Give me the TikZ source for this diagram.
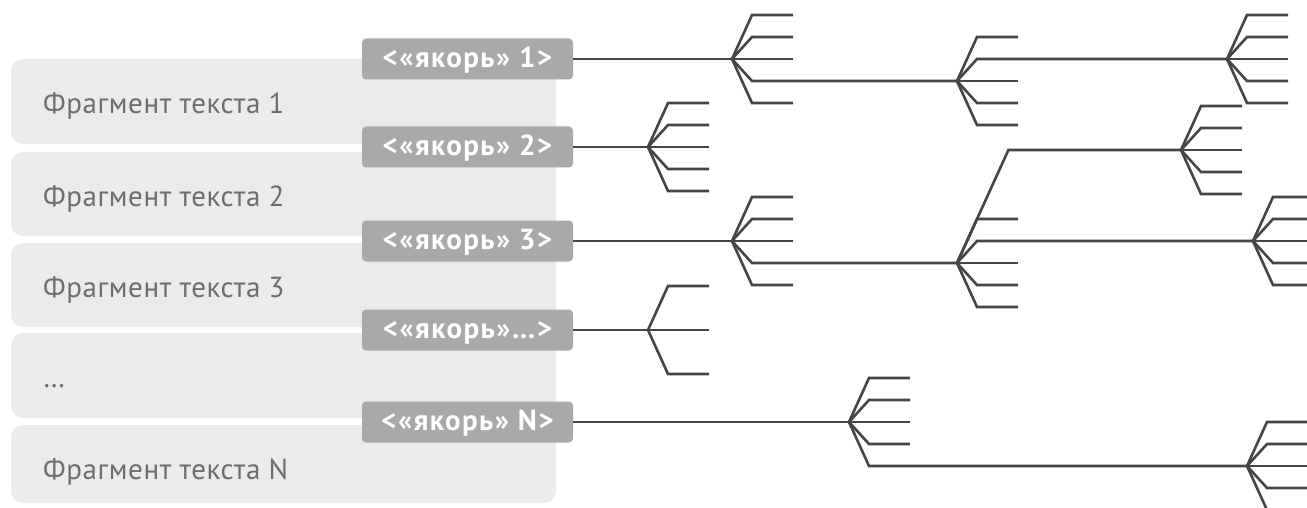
\documentclass[tikz,border=0pt]{standalone}
\usepackage{fontspec}
\setmainfont{PT Sans}
\newfontfamily\fragfont{PT Sans}[LetterSpace=2]
\newfontfamily\ancfont{PT Sans}[LetterSpace=5]
\definecolor{fragfill}{HTML}{EBEBEB}
\definecolor{fragtext}{HTML}{6E6E6E}
\definecolor{ancfill}{HTML}{A9A9A9}
\definecolor{treeline}{HTML}{454545}
\tikzset{
  fragbox/.style={fill=fragfill, rounded corners=12pt, minimum width=545pt, inner sep=0pt},
  fragtext/.style={text=fragtext, font=\fragfont\fontsize{29}{33}\selectfont, inner sep=0pt, anchor=base west},
  ancbox/.style={fill=ancfill, rounded corners=4pt, minimum width=211pt, minimum height=41pt, inner sep=0pt,
    text height=17pt, text depth=0pt,
    text=white, font=\ancfont\bfseries\fontsize{29}{33}\selectfont},
  tree/.style={draw=treeline, line width=2.6pt, line join=miter},
}
\newcommand\forkbranches[2]{%
  \foreach \k in {#2}{\draw[tree] (#1) -- ++(20,22*\k) -- ++(41,0);}}
\begin{document}
\begin{tikzpicture}[x=1pt,y=-1pt]
\useasboundingbox (0,0) rectangle (1307,508);
\clip (0,0) rectangle (1307,508);
% fragment boxes
\node[fragbox, minimum height=85pt] (f1) at (283.5,101.5) {};
\node[fragbox, minimum height=84pt] (f2) at (283.5,194) {};
\node[fragbox, minimum height=84pt] (f3) at (283.5,285) {};
\node[fragbox, minimum height=85pt] (f4) at (283.5,375.5) {};
\node[fragbox, minimum height=78pt] (f5) at (283.5,464) {};
\node[fragtext] (t1) at (43,114) {Фрагмент текста 1};
\node[fragtext] (t2) at (43,206) {Фрагмент текста 2};
\node[fragtext] (t3) at (43,297) {Фрагмент текста 3};
\node[fragtext] (t4) at (43,387) {…};
\node[fragtext] (t5) at (43,479) {Фрагмент текста N};
% anchors
\node[ancbox] (a1) at (467.5,59) {<«якорь» 1>};
\node[ancbox] (a2) at (467.5,147) {<«якорь» 2>};
\node[ancbox] (a3) at (467.5,241) {<«якорь» 3>};
\node[ancbox] (a4) at (467.5,330) {<«якорь»…>};
\node[ancbox] (a5) at (467.5,422) {<«якорь» N>};
% fork points
\coordinate (F1) at (732,59);
\coordinate (F1b) at (957,81);
\coordinate (F1c) at (1227,59);
\coordinate (F2) at (648,147);
\coordinate (F2b) at (1181,150);
\coordinate (F3) at (732,241);
\coordinate (F3b) at (957,263);
\coordinate (F3c) at (1253,241);
\coordinate (F4) at (648,330);
\coordinate (FN) at (849,422);
\coordinate (FNb) at (1247,466);
% stems
\draw[tree] (a1.east) -- (F1);
\draw[tree] (a2.east) -- (F2);
\draw[tree] (a3.east) -- (F3);
\draw[tree] (a4.east) -- (F4);
\draw[tree] (a5.east) -- (FN);
% links between forks
\draw[tree] (F1) -- ++(20,22) -- (F1b);
\draw[tree] (F1b) -- ++(20,-22) -- (F1c);
\draw[tree] (F3) -- ++(20,22) -- (F3b);
\draw[tree] (F3b) -- ++(20,-22) -- (F3c);
\draw[tree] (F3b) -- ++(51.4,-113) -- (F2b);
\draw[tree] (FN) -- ++(20,44) -- (FNb);
% branches
\forkbranches{F1}{-2,-1,0,2}
\forkbranches{F1b}{-2,0,1,2}
\forkbranches{F1c}{-2,-1,0,1,2}
\forkbranches{F2}{-2,-1,0,1,2}
\forkbranches{F2b}{-2,-1,0,1,2}
\forkbranches{F3}{-2,-1,0,2}
\forkbranches{F3b}{-2,0,1,2}
\forkbranches{F3c}{-2,-1,0,1,2}
\forkbranches{F4}{-2,0,2}
\forkbranches{FN}{-2,-1,0,1}
\forkbranches{FNb}{-2,-1,0,1,2}
\end{tikzpicture}
\end{document}
